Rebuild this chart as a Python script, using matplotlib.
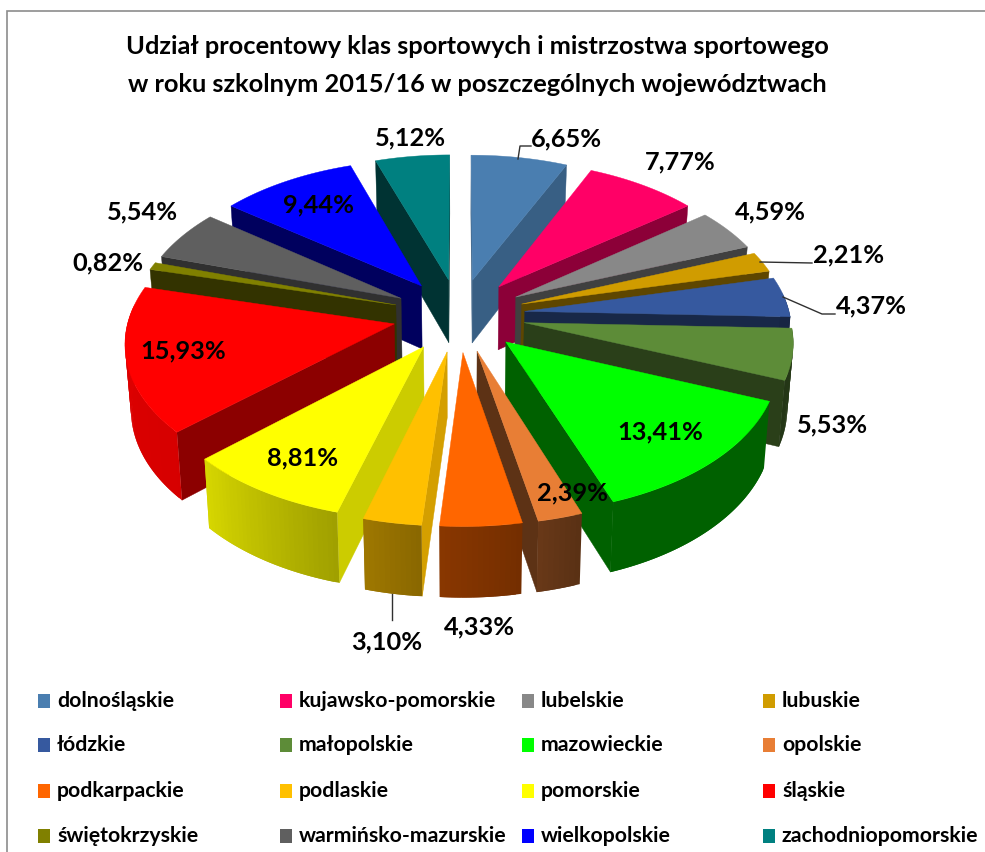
import numpy as np
import matplotlib
matplotlib.use("Agg")
import matplotlib.pyplot as plt
from matplotlib.patches import Polygon, Rectangle
from matplotlib.colors import to_rgb

plt.rcParams['font.family'] = ['Lato', 'DejaVu Sans']

# ---- data ----
regions = ["dolnośląskie", "kujawsko-pomorskie", "lubelskie", "lubuskie",
           "łódzkie", "małopolskie", "mazowieckie", "opolskie",
           "podkarpackie", "podlaskie", "pomorskie", "śląskie",
           "świętokrzyskie", "warmińsko-mazurskie", "wielkopolskie", "zachodniopomorskie"]
shares = [6.65, 7.77, 4.59, 2.21, 4.37, 5.53, 13.41, 2.39,
          4.33, 3.10, 8.81, 15.93, 0.82, 5.54, 9.44, 5.12]
title_lines = ["Udział procentowy klas sportowych i mistrzostwa sportowego",
               "w roku szkolnym 2015/16 w poszczególnych województwach"]

# ---- style ----
colors = ["#4a7eb0", "#ff0066", "#888888", "#d09c00", "#36599f", "#5d8c38", "#00ff00", "#e87e35",
          "#ff6600", "#ffc000", "#ffff00", "#ff0000", "#808000", "#5f5f5f", "#0000ff", "#008080"]
cut_shades = [.75, .55, .47, .45, .45, .45, .38, .40, .45, .83, .80, .55, .40, .50, .37, .40]
label_xy = [(566, 139), (680, 162), (770, 212), (849, 255), (871, 306), (833, 425), (660, 432), (572, 493),
            (480, 627), (387, 642), (303, 458), (183, 351), (108, 263), (143, 212), (318, 205), (411, 138)]
leaders = [[(518, 159), (520, 146), (531, 146)],
           [(760, 262), (812, 263)],
           [(783, 297), (822, 314), (835, 314)],
           [(392, 594), (392, 620)]]
legend_cols = [38, 280, 522, 763]
legend_rows = [701, 745, 791, 836]

# projection parameters (pixels)
CX, CY, A, B, H = 459, 315, 265, 146, 64
AX, AY, AH, EXPL = 0.11, 0.11, 0.08, 0.25


def top(X, Y):
    return CX + A * X / (1 - AX * Y), CY + B * Y / (1 - AY * Y)


def bottom(X, Y):
    x, y = top(X, Y)
    return CX + (x - CX) * 0.982, y + H / (1 - AH * Y)


def wall_shade(theta):
    return np.interp(theta, [90, 115, 160, 170, 185, 195, 227, 270, 300],
                     [.42, .38, .38, .46, .54, .62, .84, .87, .85])


def shade(c, s):
    return tuple(v * s for v in to_rgb(c))


def signed_area(p):
    p = np.asarray(p)
    x, y = p[:, 0], p[:, 1]
    return 0.5 * np.sum(x * np.roll(y, -1) - np.roll(x, -1) * y)


fig = plt.figure(figsize=(9.85, 8.52), dpi=100)
ax = fig.add_axes([0, 0, 1, 1])
ax.set_xlim(0, 985)
ax.set_ylim(852, 0)
ax.axis('off')

ax.plot([985, 7, 7], [11, 11, 852], color="#8c8c8c", lw=1.2, solid_joinstyle='miter')

total = sum(shares)
edges = np.concatenate([[0], np.cumsum(shares)]) / total * 360.0
mids = (edges[:-1] + edges[1:]) / 2
order = sorted(range(len(shares)), key=lambda i: -np.cos(np.radians(mids[i])))

for i in order:
    t0, t1, m = edges[i], edges[i + 1], np.radians(mids[i])
    ox, oy = EXPL * np.sin(m), -EXPL * np.cos(m)
    n = max(int((t1 - t0) / 1.0), 3)
    th = np.linspace(t0, t1, n + 1)
    X = ox + np.sin(np.radians(th))
    Y = oy - np.cos(np.radians(th))
    # cut faces
    for j, s in ((0, 1), (-1, -1)):
        fx, fy = X[j], Y[j]
        poly = [top(ox, oy), top(fx, fy), bottom(fx, fy), bottom(ox, oy)]
        if s * signed_area(poly) < 0:
            col = shade(colors[i], cut_shades[i])
            ax.add_patch(Polygon(poly, closed=True, fc=col, ec=col, lw=0.3))
    # outer wall, each strip overlapping the next so no seams show
    for k in range(n):
        if np.cos(np.radians((th[k] + th[k + 1]) / 2)) > 0.12:
            continue
        k2 = min(k + 2, n)
        poly = [top(X[k], Y[k])] + [top(X[q], Y[q]) for q in range(k + 1, k2 + 1)] + \
               [bottom(X[q], Y[q]) for q in range(k2, k - 1, -1)]
        col = shade(colors[i], wall_shade((th[k] + th[k + 1]) / 2))
        ax.add_patch(Polygon(poly, closed=True, fc=col, ec='none', lw=0))
    # top face
    pts = [top(ox, oy)] + [top(a, b) for a, b in zip(X, Y)]
    ax.add_patch(Polygon(pts, closed=True, fc=colors[i], ec=colors[i], lw=0.3))

for line in leaders:
    xs, ys = zip(*line)
    ax.plot(xs, ys, color="#303030", lw=1.0, zorder=20)

for v, (x, y) in zip(shares, label_xy):
    ax.text(x, y, f"{v:.2f}%".replace(".", ","), ha='center', va='center',
            fontsize=18.3, fontweight='bold', color='black', zorder=30)

for line, y in zip(title_lines, [47, 85]):
    ax.text(477, y, line, ha='center', va='center', fontsize=18.3, fontweight='bold', color='black', zorder=30)

for idx, (name, col) in enumerate(zip(regions, colors)):
    r, c = divmod(idx, 4)
    x, y = legend_cols[c], legend_rows[r]
    ax.add_patch(Rectangle((x, y - 7), 12, 14, fc=col, ec='none'))
    ax.text(x + 19, y, name, ha='left', va='center', fontsize=15.3, fontweight='bold', color='black', zorder=30)

fig.savefig("out.png", dpi=100)
